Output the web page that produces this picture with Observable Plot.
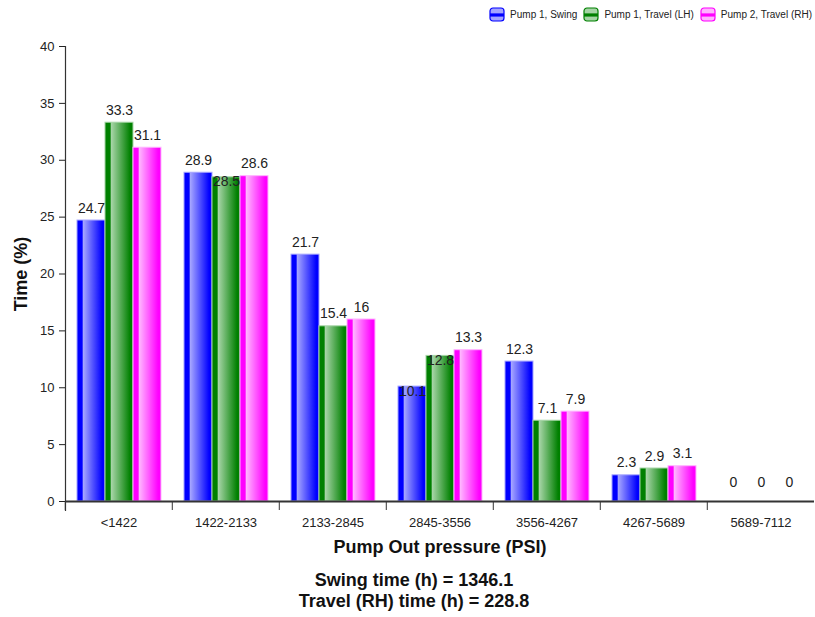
<!DOCTYPE html>
<html><head><meta charset="utf-8">
<script src="https://cdn.jsdelivr.net/npm/d3@7"></script>
<script src="https://cdn.jsdelivr.net/npm/@observablehq/plot@0.6"></script>
<style>
body{margin:0;background:#fff;font-family:"Liberation Sans",Arial,sans-serif;}
#wrap{position:relative;width:815px;}
#legend{position:absolute;top:7px;right:3px;display:flex;align-items:center;font-size:10px;color:#222;z-index:2;}
.item{display:flex;align-items:center;margin-left:6px;}
.item svg{margin-right:5px;}
#caption{text-align:center;font-weight:bold;font-size:18px;line-height:21px;padding-left:13px;margin-top:10px;color:#111;}
g[aria-label="fx-axis label"] text, g[aria-label="y-axis label"] text{font-weight:bold;font-size:18px;fill:#111;}
</style></head><body>
<div id="wrap"><div id="legend"></div><div id="chart"></div><div id="caption"></div></div>
<script>
// ---- data ----
const categories = ["<1422","1422-2133","2133-2845","2845-3556","3556-4267","4267-5689","5689-7112"];
const seriesNames = ["Pump 1, Swing","Pump 1, Travel (LH)","Pump 2, Travel (RH)"];
const swing    = [24.7, 28.9, 21.7, 10.1, 12.3, 2.3, 0];
const travelLH = [33.3, 28.5, 15.4, 12.8,  7.1, 2.9, 0];
const travelRH = [31.1, 28.6, 16,   13.3,  7.9, 3.1, 0];
const yTicks = [0, 5, 10, 15, 20, 25, 30, 35, 40];
const xLabel = "Pump Out pressure (PSI)";
const yLabel = "Time (%)";
const captionLines = ["Swing time (h) = 1346.1", "Travel (RH) time (h) = 228.8"];
const baseColors  = ["#0000ff", "#008000", "#ff00ff"];
const lightColors = ["#a4a4ff", "#a6d4a6", "#ffb4ff"];

// ---- layout ----
const W = 815, H = 560, mL = 63, mR = 0, mT = 46, mB = 59, padOuter = 0.35;
const seriesValues = [swing, travelLH, travelRH];
const rows = categories.flatMap((c, i) => seriesNames.map((s, j) => ({category: c, series: s, value: seriesValues[j][i], si: j})));

// label collision avoidance (move label down onto the bar when it collides with a neighbour)
const ppu = (H - mT - mB) / (yTicks[yTicks.length-1] - yTicks[0]);
const barStep = (W - mL - mR) / categories.length / (seriesNames.length + 2 * padOuter);
const ctx = document.createElement("canvas").getContext("2d");
ctx.font = "14px 'Liberation Sans'";
for (const c of categories) {
  const grp = rows.filter(d => d.category === c).sort((a, b) => b.value - a.value);
  const placed = [];
  for (const d of grp) {
    d.w = ctx.measureText(String(d.value)).width;
    const top = -d.value * ppu;
    let box = [top - 24, top - 6];
    d.kind = d.value === 0 ? "zero" : "up";
    for (const p of placed) {
      const hOver = Math.abs(p.si - d.si) * barStep < (p.w + d.w) / 2 + 4;
      const vOver = box[0] < p.box[1] && p.box[0] < box[1];
      if (hOver && vOver && d.value > 0) { d.kind = "down"; box = [top - 2, top + 16]; break; }
    }
    d.box = box;
    placed.push(d);
  }
}

const fillFor = d => `url(#barGrad${d.si})`;
const strokeFor = d => lightColors[d.si];
const txt = {fx: "category", x: "series", y: "value", text: d => String(d.value), fontSize: 14, fill: "#222", lineAnchor: "bottom"};

const chart = Plot.plot({
  width: W, height: H, marginLeft: mL, marginRight: mR, marginTop: mT, marginBottom: mB,
  style: {fontFamily: "'Liberation Sans', Arial, sans-serif", fontSize: "13px", color: "#222", background: "transparent"},
  fx: {domain: categories, padding: 0},
  x: {domain: seriesNames, paddingInner: 0, paddingOuter: padOuter, axis: null},
  y: {domain: [yTicks[0], yTicks[yTicks.length-1]]},
  color: {type: "identity"},
  marks: [
    Plot.barY(rows, {fx: "category", x: "series", y: "value", fill: fillFor, stroke: strokeFor, strokeWidth: 1, inset: 0}),
    Plot.ruleY([0], {stroke: "#333", strokeWidth: 2}),
    Plot.frame({anchor: "left", facetAnchor: "left", stroke: "#333", strokeWidth: 1.2, insetBottom: -9}),
    Plot.text(rows.filter(d => d.kind === "up"), {...txt, dy: -8}),
    Plot.text(rows.filter(d => d.kind === "down"), {...txt, dy: 9}),
    Plot.text(rows.filter(d => d.kind === "zero"), {...txt, dy: -15}),
    Plot.axisY({ticks: yTicks, tickSize: 6, tickPadding: 5, fontSize: 13, label: yLabel, labelAnchor: "center", labelArrow: "none", labelOffset: 51}),
    Plot.axisFx({anchor: "bottom", tickSize: 9, tickFormat: () => "", label: null, dx: -(W - mL - mR) / categories.length / 2, stroke: "#333"}),
    Plot.axisFx({anchor: "bottom", tickSize: 0, tickPadding: 16, fontSize: 13, label: xLabel, labelAnchor: "center", labelArrow: "none", labelOffset: 51})
  ]
});

// gradients for the bars
const NS = "http://www.w3.org/2000/svg";
const defs = document.createElementNS(NS, "defs");
baseColors.forEach((b, i) => {
  const g = document.createElementNS(NS, "linearGradient");
  g.setAttribute("id", "barGrad" + i);
  g.setAttribute("x1", "0"); g.setAttribute("x2", "1"); g.setAttribute("y1", "0"); g.setAttribute("y2", "0");
  [[0, b], [0.18, b], [0.23, lightColors[i]], [0.9, b], [1, b]].forEach(([o, c]) => {
    const s = document.createElementNS(NS, "stop");
    s.setAttribute("offset", o); s.setAttribute("stop-color", c);
    g.appendChild(s);
  });
  defs.appendChild(g);
});
chart.insertBefore(defs, chart.firstChild);
document.getElementById("chart").appendChild(chart);

// legend
const legend = document.getElementById("legend");
seriesNames.forEach((s, i) => {
  const item = document.createElement("div");
  item.className = "item";
  item.innerHTML = `<svg width="16" height="15" viewBox="0 0 16 15">
    <defs><linearGradient id="legGrad${i}" x1="0" y1="0" x2="0" y2="1">
      <stop offset="0" stop-color="${lightColors[i]}"/><stop offset="0.38" stop-color="${lightColors[i]}"/>
      <stop offset="0.45" stop-color="${baseColors[i]}"/><stop offset="0.62" stop-color="${baseColors[i]}"/>
      <stop offset="0.7" stop-color="${lightColors[i]}"/><stop offset="1" stop-color="${lightColors[i]}"/>
    </linearGradient></defs>
    <rect x="1" y="1" width="14" height="13" rx="3" fill="url(#legGrad${i})" stroke="${baseColors[i]}" stroke-width="1.2"/></svg><span>${s}</span>`;
  legend.appendChild(item);
});

// caption
document.getElementById("caption").innerHTML = captionLines.map(l => `<div>${l}</div>`).join("");
</script>
</body></html>
